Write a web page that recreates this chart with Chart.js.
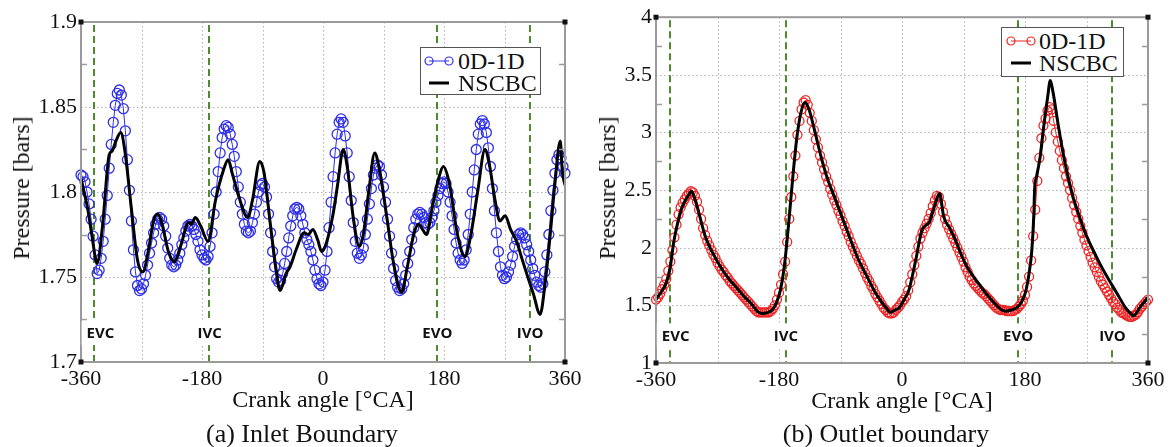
<!DOCTYPE html>
<html>
<head>
<meta charset="utf-8">
<script src="https://cdn.jsdelivr.net/npm/chart.js@4.4.1/dist/chart.umd.min.js"></script>
<style>
html,body{margin:0;padding:0;background:#fff;}
body{width:1174px;height:447px;position:relative;overflow:hidden;font-family:"Liberation Serif","Times New Roman",serif;color:#111;}
canvas{position:absolute;top:0;}
.t{position:absolute;white-space:nowrap;font-size:24px;line-height:1;transform:translate(-50%,-50%);}
.cap{font-size:26px;}
.rot{transform:translate(-50%,-50%) rotate(-90deg);}
.leg{position:absolute;background:#fff;border:1px solid #555;box-sizing:border-box;font-size:24px;line-height:1;}
.leg span{position:absolute;white-space:nowrap;transform:translateY(-50%);}
.leg svg{position:absolute;left:0;top:0;}
</style>
</head>
<body>
<canvas id="inlet" width="600" height="447" style="left:0px"></canvas>
<canvas id="outlet" width="599" height="447" style="left:575px"></canvas>

<div class="t rot" style="left:21px;top:188px">Pressure [bars]</div>
<div class="t" style="left:323px;top:399px">Crank angle [°CA]</div>
<div class="t cap" style="left:302px;top:434px">(a) Inlet Boundary</div>

<div class="t rot" style="left:607px;top:188px">Pressure [bars]</div>
<div class="t" style="left:902px;top:400px">Crank angle [°CA]</div>
<div class="t cap" style="left:886px;top:434px">(b) Outlet boundary</div>

<div class="leg" style="left:420px;top:47px;width:121px;height:48px;">
  <svg width="121" height="48">
    <line x1="8" y1="13" x2="28" y2="13" stroke="#2f2fe8" stroke-width="1"/>
    <circle cx="8" cy="13" r="4" fill="none" stroke="#2f2fe8" stroke-width="1.2"/>
    <circle cx="28" cy="13" r="4" fill="none" stroke="#2f2fe8" stroke-width="1.2"/>
    <line x1="8" y1="35" x2="28" y2="35" stroke="#000" stroke-width="3"/>
  </svg>
  <span style="left:37px;top:13px">0D-1D</span>
  <span style="left:37px;top:35px">NSCBC</span>
</div>

<div class="leg" style="left:1001px;top:27px;width:123px;height:50px;">
  <svg width="123" height="50">
    <line x1="9" y1="13" x2="29" y2="13" stroke="#ee2424" stroke-width="1"/>
    <circle cx="9" cy="13" r="4" fill="none" stroke="#ee2424" stroke-width="1.2"/>
    <circle cx="29" cy="13" r="4" fill="none" stroke="#ee2424" stroke-width="1.2"/>
    <line x1="9" y1="35" x2="29" y2="35" stroke="#000" stroke-width="3"/>
  </svg>
  <span style="left:37px;top:13px">0D-1D</span>
  <span style="left:37px;top:35px">NSCBC</span>
</div>

<script>
// ---------------- DATA ----------------
// crank angle grid of the 0D-1D (circle) series [°CA]
const crankAngles = [
  -360,-357,-354,-351,-348,-345,-342,-339,-336,-333,
  -330,-327,-324,-321,-318,-315,-312,-309,-306,-303,
  -300,-297,-294,-291,-288,-285,-282,-279,-276,-273,
  -270,-267,-264,-261,-258,-255,-252,-249,-246,-243,
  -240,-237,-234,-231,-228,-225,-222,-219,-216,-213,
  -210,-207,-204,-201,-198,-195,-192,-189,-186,-183,
  -180,-177,-174,-171,-168,-165,-162,-159,-156,-153,
  -150,-147,-144,-141,-138,-135,-132,-129,-126,-123,
  -120,-117,-114,-111,-108,-105,-102,-99,-96,-93,
  -90,-87,-84,-81,-78,-75,-72,-69,-66,-63,
  -60,-57,-54,-51,-48,-45,-42,-39,-36,-33,
  -30,-27,-24,-21,-18,-15,-12,-9,-6,-3,
  0,3,6,9,12,15,18,21,24,27,
  30,33,36,39,42,45,48,51,54,57,
  60,63,66,69,72,75,78,81,84,87,
  90,93,96,99,102,105,108,111,114,117,
  120,123,126,129,132,135,138,141,144,147,
  150,153,156,159,162,165,168,171,174,177,
  180,183,186,189,192,195,198,201,204,207,
  210,213,216,219,222,225,228,231,234,237,
  240,243,246,249,252,255,258,261,264,267,
  270,273,276,279,282,285,288,291,294,297,
  300,303,306,309,312,315,318,321,324,327,
  330,333,336,339,342,345,348,351,354,357,
  360
];

// (a) Inlet boundary, 0D-1D [bar]
const inlet0D1D = [
  1.810,1.809,1.806,1.800,1.793,1.784,1.774,1.763,1.752,1.754,
  1.761,1.771,1.784,1.798,1.814,1.828,1.841,1.851,1.858,1.860,
  1.857,1.849,1.836,1.819,1.801,1.783,1.766,1.753,1.745,1.742,
  1.743,1.746,1.751,1.757,1.764,1.770,1.776,1.781,1.784,1.785,
  1.784,1.780,1.774,1.767,1.761,1.757,1.756,1.757,1.760,1.764,
  1.769,1.773,1.777,1.780,1.781,1.780,1.778,1.775,1.771,1.766,
  1.763,1.761,1.760,1.762,1.768,1.776,1.787,1.800,1.812,1.823,
  1.832,1.837,1.839,1.838,1.834,1.828,1.821,1.812,1.803,1.794,
  1.787,1.781,1.777,1.776,1.777,1.782,1.787,1.794,1.800,1.804,
  1.805,1.803,1.797,1.787,1.776,1.765,1.756,1.749,1.747,1.748,
  1.752,1.758,1.765,1.773,1.780,1.786,1.790,1.791,1.790,1.786,
  1.781,1.776,1.772,1.769,1.765,1.760,1.754,1.749,1.746,1.745,
  1.747,1.754,1.765,1.779,1.794,1.809,1.823,1.834,1.841,1.843,
  1.841,1.833,1.823,1.809,1.795,1.782,1.771,1.764,1.761,1.763,
  1.767,1.775,1.784,1.793,1.802,1.810,1.814,1.816,1.815,1.810,
  1.803,1.794,1.784,1.774,1.764,1.755,1.748,1.744,1.742,1.743,
  1.746,1.751,1.758,1.765,1.772,1.779,1.784,1.787,1.788,1.787,
  1.785,1.782,1.781,1.782,1.785,1.789,1.794,1.798,1.802,1.805,
  1.806,1.805,1.800,1.794,1.786,1.778,1.770,1.764,1.760,1.758,
  1.760,1.766,1.775,1.787,1.800,1.813,1.825,1.834,1.840,1.842,
  1.840,1.835,1.826,1.815,1.802,1.789,1.776,1.765,1.756,1.751,
  1.749,1.750,1.753,1.757,1.762,1.768,1.772,1.775,1.776,1.775,
  1.773,1.769,1.765,1.760,1.755,1.751,1.747,1.745,1.744,1.746,
  1.753,1.763,1.775,1.789,1.801,1.811,1.819,1.822,1.820,1.815,
  1.811
];

// (a) Inlet boundary, NSCBC
const inletNscbcAngles = [
  -360,-350,-344,-336,-328,-318,-314,-308,-301,-295,-285,-276,-268,-260,-252,
  -246,-240,-230,-221,-212,-200,-196,-190,-182,-171,-160,-148,-141,-135,-125,
  -112,-105,-94,-88,-78,-70,-64,-55,-49,-40,-28,-22,-15,-8,-2,
  5,15,22,30,36,45,54,60,68,77,83,95,105,117,125,
  135,142,148,154,162,172,179,188,200,211,220,230,241,248,256,
  263,271,279,288,295,303,313,323,330,338,345,353,356,360
];
const inletNscbc = [
  1.808,1.790,1.775,1.758,1.780,1.822,1.824,1.830,1.835,1.825,1.790,1.760,1.753,1.765,1.783,
  1.787,1.782,1.765,1.759,1.768,1.782,1.781,1.785,1.780,1.771,1.795,1.813,1.819,1.811,1.797,
  1.785,1.795,1.818,1.812,1.780,1.755,1.742,1.752,1.756,1.766,1.776,1.775,1.778,1.772,1.765,
  1.770,1.787,1.805,1.825,1.815,1.785,1.768,1.775,1.800,1.823,1.815,1.785,1.758,1.741,1.755,
  1.775,1.781,1.778,1.775,1.790,1.808,1.815,1.805,1.775,1.762,1.775,1.800,1.825,1.815,1.795,
  1.783,1.786,1.778,1.771,1.762,1.752,1.740,1.728,1.745,1.775,1.805,1.830,1.812,1.804
];

// (b) Outlet boundary, 0D-1D [bar]
const outlet0D1D = [
  1.55,1.57,1.60,1.64,1.68,1.73,1.80,1.88,1.98,2.09,
  2.20,2.29,2.35,2.39,2.42,2.45,2.47,2.49,2.48,2.45,
  2.40,2.33,2.25,2.17,2.11,2.06,2.02,1.98,1.94,1.91,
  1.87,1.84,1.81,1.79,1.76,1.74,1.71,1.69,1.67,1.65,
  1.63,1.61,1.59,1.57,1.55,1.53,1.51,1.49,1.47,1.45,
  1.44,1.44,1.44,1.44,1.44,1.44,1.45,1.47,1.50,1.55,
  1.61,1.68,1.77,1.88,2.05,2.25,2.44,2.62,2.80,2.98,
  3.10,3.20,3.26,3.28,3.24,3.17,3.10,3.02,2.94,2.87,
  2.80,2.74,2.68,2.62,2.57,2.51,2.46,2.41,2.37,2.32,
  2.28,2.23,2.19,2.14,2.10,2.05,2.01,1.97,1.93,1.89,
  1.86,1.82,1.78,1.74,1.71,1.67,1.64,1.60,1.57,1.54,
  1.51,1.48,1.46,1.44,1.43,1.43,1.44,1.46,1.48,1.50,
  1.53,1.55,1.58,1.63,1.70,1.77,1.85,1.93,2.01,2.08,
  2.13,2.17,2.21,2.25,2.30,2.36,2.41,2.45,2.44,2.38,
  2.31,2.25,2.20,2.16,2.12,2.08,2.04,2.00,1.96,1.92,
  1.88,1.83,1.79,1.75,1.72,1.69,1.67,1.65,1.63,1.61,
  1.60,1.58,1.56,1.54,1.52,1.50,1.48,1.47,1.46,1.46,
  1.46,1.45,1.45,1.45,1.45,1.46,1.47,1.49,1.51,1.54,
  1.59,1.66,1.75,1.89,2.10,2.33,2.58,2.78,2.95,3.06,
  3.12,3.19,3.22,3.20,3.10,3.00,2.92,2.84,2.76,2.69,
  2.62,2.56,2.50,2.43,2.37,2.31,2.25,2.19,2.13,2.07,
  2.02,1.97,1.92,1.87,1.83,1.79,1.75,1.71,1.68,1.65,
  1.62,1.59,1.56,1.53,1.51,1.48,1.46,1.44,1.43,1.42,
  1.41,1.40,1.40,1.41,1.42,1.44,1.47,1.49,1.51,1.53,
  1.55
];

// (b) Outlet boundary, NSCBC
const outletNscbcAngles = [
  -360,-352,-346,-340,-334,-328,-323,-318,-313,-308,-302,-295,-288,-280,-272,
  -262,-252,-240,-230,-220,-212,-205,-196,-190,-184,-178,-172,-166,-160,-154,
  -148,-142,-136,-128,-118,-108,-98,-88,-76,-64,-52,-40,-30,-22,-17,
  -10,-4,4,10,20,29,36,40,47,55,61,70,78,86,93,
  102,112,122,132,140,146,152,160,168,175,181,186,190,193,194,
  197,202,208,213,217,221,229,238,249,258,268,278,288,298,307,
  317,327,333,339,348,356,360
];
const outletNscbc = [
  1.55,1.62,1.68,1.80,2.05,2.22,2.33,2.40,2.45,2.49,2.40,2.25,2.10,1.99,1.90,
  1.80,1.72,1.64,1.57,1.51,1.45,1.43,1.44,1.46,1.52,1.63,1.85,2.20,2.60,2.95,
  3.17,3.26,3.20,3.02,2.78,2.58,2.43,2.27,2.08,1.90,1.76,1.62,1.53,1.47,1.44,
  1.46,1.48,1.56,1.63,1.89,2.15,2.20,2.22,2.35,2.47,2.27,2.17,2.07,1.95,1.86,
  1.77,1.69,1.61,1.54,1.49,1.46,1.45,1.46,1.48,1.53,1.62,1.78,1.98,2.30,2.50,
  2.62,2.78,3.08,3.30,3.45,3.35,3.05,2.75,2.47,2.30,2.13,2.00,1.88,1.77,1.68,
  1.58,1.48,1.44,1.41,1.48,1.54,1.57
];

// ticks / grid / valve events
const crankTicks = [-360, -180, 0, 180, 360];
const crankGrid = [-270, -180, -90, 0, 90, 180, 270];
const inletTicks = [1.7, 1.75, 1.8, 1.85, 1.9];
const inletMinorTicks = [1.725, 1.775, 1.825, 1.875];
const outletTicks = [1, 1.5, 2, 2.5, 3, 3.5, 4];
const outletMinorTicks = [1.25, 1.75, 2.25, 2.75, 3.25, 3.75];
const valveEvents = ['EVC', 'IVC', 'EVO', 'IVO'];
const valveAngles = [-340, -170, 170, 308];

// ---------------- DRAWING ----------------
function zip(xs, ys) {
  const n = Math.min(xs.length, ys.length);
  const out = [];
  for (let i = 0; i < n; i++) out.push({ x: xs[i], y: ys[i] });
  return out;
}

function decor(d) {
  return {
    id: 'decor_' + d.key,
    beforeDatasetsDraw(chart) {
      const { ctx, chartArea: a, scales: { x, y } } = chart;
      ctx.save();
      ctx.lineWidth = 1;
      ctx.strokeStyle = '#b0b0b0';
      ctx.setLineDash([1.5, 2.5]);
      ctx.beginPath();
      crankGrid.forEach(v => {
        const px = Math.round(x.getPixelForValue(v)) + 0.5;
        ctx.moveTo(px, a.top); ctx.lineTo(px, a.bottom);
      });
      d.grid.forEach(v => {
        const py = Math.round(y.getPixelForValue(v)) + 0.5;
        ctx.moveTo(a.left, py); ctx.lineTo(a.right, py);
      });
      ctx.stroke();
      ctx.strokeStyle = '#4e8a2e';
      ctx.lineWidth = 2;
      ctx.setLineDash([7, 4]);
      ctx.beginPath();
      valveAngles.forEach(v => {
        const px = Math.round(x.getPixelForValue(v));
        ctx.moveTo(px, a.top + 3); ctx.lineTo(px, a.bottom);
      });
      ctx.stroke();
      ctx.restore();
    },
    afterDatasetsDraw(chart) {
      const { ctx, chartArea: a, scales: { x, y } } = chart;
      ctx.save();
      ctx.setLineDash([]);
      ctx.strokeStyle = '#9a9a9a';
      ctx.lineWidth = 2;
      ctx.strokeRect(a.left, a.top, a.right - a.left, a.bottom - a.top);
      ctx.lineWidth = 1.5;
      ctx.beginPath();
      d.minor.forEach(v => {
        const py = Math.round(y.getPixelForValue(v)) + 0.5;
        ctx.moveTo(a.left, py); ctx.lineTo(a.left + 6, py);
        ctx.moveTo(a.right, py); ctx.lineTo(a.right - 6, py);
      });
      ctx.stroke();
      ctx.fillStyle = '#111';
      [[a.left, a.top], [a.left, a.bottom], [a.right, a.top], [a.right, a.bottom]].forEach(([cx, cy]) => {
        ctx.fillRect(cx - 2.5, cy - 2.5, 5, 5);
      });
      ctx.font = 'bold 15px "Open Sans", "Liberation Sans", sans-serif';
      ctx.textAlign = 'center';
      ctx.textBaseline = 'middle';
      valveEvents.forEach((name, i) => {
        const px = x.getPixelForValue(valveAngles[i]) + d.labelShift[i];
        const py = y.getPixelForValue(d.labelY);
        const w = ctx.measureText(name).width + 10;
        ctx.fillStyle = '#fff';
        ctx.fillRect(px - w / 2, py - 12, w, 24);
        ctx.fillStyle = '#111';
        ctx.fillText(name, px, py + 1);
      });
      ctx.restore();
    }
  };
}

function build(id, d) {
  return new Chart(document.getElementById(id), {
    type: 'line',
    data: {
      datasets: [
        {
          label: 'NSCBC',
          data: zip(d.lineX, d.lineY),
          borderColor: '#000',
          borderWidth: 3,
          pointRadius: 0,
          cubicInterpolationMode: 'monotone',
          fill: false,
          order: 0
        },
        {
          label: '0D-1D',
          data: zip(crankAngles, d.circles),
          borderColor: d.color,
          borderWidth: 1,
          pointRadius: d.radius,
          pointBorderWidth: 1.3,
          pointBorderColor: d.color,
          pointBackgroundColor: 'rgba(0,0,0,0)',
          pointStyle: 'circle',
          tension: 0,
          fill: false,
          clip: false,
          order: 1
        }
      ]
    },
    options: {
      responsive: false,
      animation: false,
      devicePixelRatio: 1,
      events: [],
      layout: { padding: { top: d.padTop, right: d.padRight, bottom: d.padBottom, left: 0 } },
      plugins: { legend: { display: false }, tooltip: { enabled: false } },
      scales: {
        x: {
          type: 'linear',
          min: -360,
          max: 360,
          afterBuildTicks: s => { s.ticks = crankTicks.map(v => ({ value: v })); },
          afterFit: s => { s.height = 40; },
          grid: { display: false, drawTicks: false },
          border: { display: false },
          ticks: {
            autoSkip: false,
            maxRotation: 0,
            padding: 4,
            color: '#111',
            font: { family: '"Liberation Serif", serif', size: 22 },
            callback: v => String(v)
          }
        },
        y: {
          type: 'linear',
          min: d.yMin,
          max: d.yMax,
          afterBuildTicks: s => { s.ticks = d.ticks.map(v => ({ value: v })); },
          afterFit: s => { s.width = d.yWidth; },
          grid: { display: false, drawTicks: false },
          border: { display: false },
          ticks: {
            padding: 4,
            color: '#111',
            font: { family: '"Liberation Serif", serif', size: 22 },
            callback: v => String(v)
          }
        }
      }
    },
    plugins: [decor(d)]
  });
}

build('inlet', {
  key: 'inlet',
  lineX: inletNscbcAngles, lineY: inletNscbc,
  circles: inlet0D1D, color: '#2f2fe8', radius: 5,
  yMin: 1.7, yMax: 1.9, ticks: inletTicks, minor: inletMinorTicks,
  grid: [1.75, 1.8, 1.85],
  yWidth: 81, padTop: 22, padRight: 35, padBottom: 45,
  labelY: 1.717, labelShift: [6, 1, 0, 0]
});

build('outlet', {
  key: 'outlet',
  lineX: outletNscbcAngles, lineY: outletNscbc,
  circles: outlet0D1D, color: '#ee2424', radius: 4.5,
  yMin: 1, yMax: 4, ticks: outletTicks, minor: outletMinorTicks,
  grid: [1.5, 2, 2.5, 3, 3.5],
  yWidth: 81, padTop: 16, padRight: 26, padBottom: 44,
  labelY: 1.24, labelShift: [6, 0, 0, 0]
});
</script>
</body>
</html>
